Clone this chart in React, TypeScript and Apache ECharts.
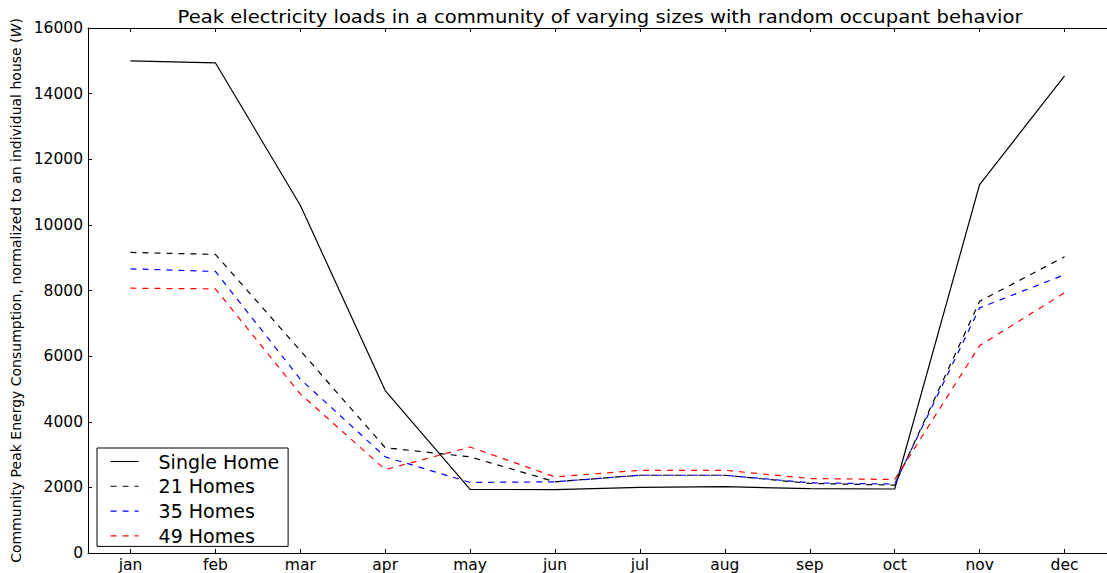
import React, { useEffect, useRef } from "react";
import * as echarts from "echarts";

const months = ["jan", "feb", "mar", "apr", "may", "jun", "jul", "aug", "sep", "oct", "nov", "dec"];
const singleHome = [15000, 14940, 10600, 4950, 1940, 1930, 2000, 2020, 1960, 1950, 11230, 14540];
const homes21 = [9160, 9100, 6170, 3210, 2930, 2170, 2370, 2370, 2120, 2070, 7670, 9030];
const homes35 = [8660, 8580, 5300, 2930, 2150, 2170, 2370, 2370, 2140, 2100, 7470, 8480];
const homes49 = [8070, 8050, 4850, 2540, 3230, 2320, 2520, 2520, 2270, 2240, 6320, 7930];
const seriesNames = ["Single Home", "21 Homes", "35 Homes", "49 Homes"];
const titleText = "Peak electricity loads in a community of varying sizes with random occupant behavior";

const FONT = "DejaVu Sans";

export default function App() {
  const ref = useRef<HTMLDivElement>(null);
  useEffect(() => {
    if (!ref.current) return;
    const chart = echarts.init(ref.current, null, { renderer: "svg" });
    const mk = (name: string, data: number[], color: string, dashed: boolean) => ({
      name,
      type: "line",
      data,
      symbol: "none",
      xAxisIndex: 0,
      yAxisIndex: 0,
      lineStyle: { color, width: 1.2, type: dashed ? [6, 6] : "solid" },
      itemStyle: { color },
      emphasis: { disabled: true },
    });
    chart.setOption({
      animation: false,
      backgroundColor: "#fff",
      textStyle: { fontFamily: FONT },
      graphic: [
        {
          type: "text",
          x: 600,
          y: 17,
          scaleX: 1.12,
          style: {
            text: titleText,
            textAlign: "center",
            textVerticalAlign: "middle",
            fontFamily: FONT,
            fontSize: 17.5,
            fill: "#000",
          },
        },
      ],
      legend: {
        orient: "vertical",
        left: 97,
        top: 448,
        data: seriesNames,
        itemWidth: 28,
        itemHeight: 14,
        itemGap: 5.8,
        padding: [4, 9, 1, 13],
        borderColor: "#000",
        borderWidth: 1,
        borderRadius: 0,
        backgroundColor: "#fff",
        selectedMode: false,
        itemStyle: { opacity: 0 },
        lineStyle: { width: 1.1 },
        textStyle: {
          fontFamily: FONT,
          fontSize: 19,
          lineHeight: 18,
          color: "#000",
          padding: [0, 0, 0, 15],
        },
      },
      grid: { left: 88, top: 28, width: 1025, height: 529, containLabel: false },
      xAxis: [
        {
          type: "category",
          data: months,
          boundaryGap: true,
          position: "bottom",
          axisLine: { show: true, lineStyle: { color: "#000", width: 1 } },
          axisTick: { show: true, inside: true, length: 4, alignWithLabel: true, lineStyle: { color: "#000" } },
          axisLabel: { color: "#000", fontFamily: FONT, fontSize: 15.5, margin: 4 },
          splitLine: { show: false },
        },
        {
          type: "category",
          data: months,
          boundaryGap: true,
          position: "top",
          axisLine: { show: true, lineStyle: { color: "#000", width: 1 } },
          axisTick: { show: true, inside: true, length: 4, alignWithLabel: true, lineStyle: { color: "#000" } },
          axisLabel: { show: false },
          splitLine: { show: false },
        },
      ],
      yAxis: [
        {
          type: "value",
          min: 0,
          max: 16000,
          interval: 2000,
          axisLine: { show: true, lineStyle: { color: "#000", width: 1 } },
          axisTick: { show: true, inside: true, length: 4, lineStyle: { color: "#000" } },
          axisLabel: {
            color: "#000",
            fontFamily: FONT,
            fontSize: 15.5,
            margin: 5,
            formatter: (v: number) => String(v),
          },
          splitLine: { show: false },
          name: "{a|Community Peak Energy Consumption, normalized to an individual house (}{b|W}{a|)}",
          nameLocation: "middle",
          nameGap: 64,
          nameTextStyle: {
            rich: {
              a: { fontFamily: FONT, fontSize: 14, color: "#000" },
              b: { fontFamily: FONT, fontSize: 14, color: "#000", fontStyle: "italic" },
            },
          },
        },
      ],
      series: [
        mk(seriesNames[0], singleHome, "#000000", false),
        mk(seriesNames[1], homes21, "#000000", true),
        mk(seriesNames[2], homes35, "#0000ff", true),
        mk(seriesNames[3], homes49, "#ff0000", true),
      ],
    });
    return () => chart.dispose();
  }, []);
  return (
    <div
      ref={ref}
      style={{ position: "fixed", left: 0, top: 0, width: 1107, height: 573, background: "#fff" }}
    />
  );
}
